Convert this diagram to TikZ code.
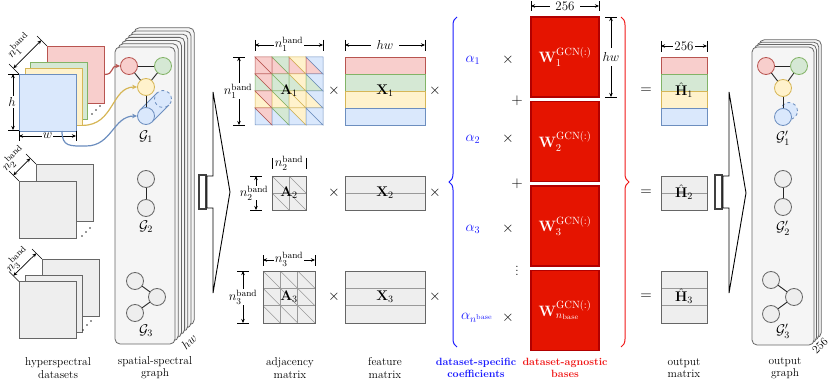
\RequirePackage{fix-cm}
\documentclass[tikz,border=0pt]{standalone}
\usepackage{amsmath}
\usetikzlibrary{arrows.meta,decorations.pathreplacing,calc}
\definecolor{Fr}{HTML}{F8CECC}\definecolor{Lr}{HTML}{B85450}
\definecolor{Fg}{HTML}{D5E8D4}\definecolor{Lg}{HTML}{82B366}
\definecolor{Fy}{HTML}{FFF2CC}\definecolor{Ly}{HTML}{D6B656}
\definecolor{Fb}{HTML}{DAE8FC}\definecolor{Lb}{HTML}{6C8EBF}
\definecolor{Fk}{HTML}{EEEEEE}\definecolor{Lk}{HTML}{666666}
\definecolor{Ik}{HTML}{999999}
\definecolor{Fp}{HTML}{F5F5F5}
\definecolor{Wr}{HTML}{E51400}\definecolor{WrL}{HTML}{B20000}
\definecolor{cblue}{HTML}{1A1AFF}\definecolor{cred}{HTML}{F01818}
\begin{document}
\begin{tikzpicture}[x=1pt,y=-1pt,
  panel/.style={rounded corners=5pt, fill=Fp, draw=Lk, line width=0.8pt},
  gn/.style={circle, draw, minimum size=17pt, inner sep=0pt, line width=0.8pt},
  gk/.style={gn, fill=Fk, draw=Lk},
  gedge/.style={draw=black!85, line width=0.9pt},
  mlab/.style={font=\fontsize{14}{16}\selectfont, inner sep=1pt},
  op/.style={font=\fontsize{15}{17}\selectfont, inner sep=0pt},
  dimtick/.style={line width=0.7pt},
  dimarr/.style={line width=0.7pt, {Stealth[length=4pt,width=3.5pt]}-{Stealth[length=4pt,width=3.5pt]}},
  dimlbl/.style={fill=white, inner sep=1pt, font=\fontsize{13}{15}\selectfont},
  rotlbl/.style={font=\fontsize{12.5}{14}\selectfont, rotate=45, inner sep=0pt},
  botlbl/.style={font=\fontsize{11.4}{12.3}\selectfont, align=center},
  sqk/.style={draw=Lk, fill=Fk, line width=0.8pt, minimum size=57pt, inner sep=0pt},
  carrow/.style={line width=1.2pt, -{Stealth[length=5pt,width=4.5pt]}},
  wbox/.style={fill=Wr, draw=WrL, line width=1.2pt, minimum width=68pt, minimum height=80pt, text=white, font=\fontsize{15}{17}\selectfont, inner sep=0pt},
  coef/.style={text=cblue, font=\fontsize{14.5}{16}\selectfont, inner sep=0pt}
]
\useasboundingbox (0,0) rectangle (830,382);

%%%%%%%%%%%% left stack (spatial-spectral graph)
\foreach \k in {6,5,...,1}
  \draw[panel, shift={(3.2*\k,-3.2*\k)}] (115,47) rectangle (175,344);
\node[panel, minimum width=60pt, minimum height=297pt, inner sep=0pt] (ssg) at (145,195.5) {};
\node[font=\fontsize{12.5}{14}\selectfont, rotate=45] (hwl) at (189,342) {$hw$};

% G1
\node[gn, fill=Fr, draw=Lr] (g1r) at (129,66) {};
\node[gn, fill=Fg, draw=Lg] (g1g) at (163,66) {};
\node[gn, fill=Fy, draw=Ly] (g1y) at (146,87) {};
\fill[Fb] (140,110) -- (157,93) -- (169,105) -- (152,122) -- cycle;
\node[gn, fill=Fb, draw=Lb, dashed] (g1bb) at (163,99) {};
\draw[Lb, line width=0.8pt] (140,110) -- (157,93) (152,122) -- (169,105);
\node[gn, fill=Fb, draw=Lb] (g1b) at (146,116) {};
\draw[gedge] (g1r) -- (g1g);
\draw[gedge] (g1r) -- (g1y);
\draw[gedge] (g1g) -- (g1y);
\draw[gedge] (g1y) -- (g1b);
\node[mlab] (lg1) at (146,137) {$\mathcal{G}_1$};
% G2
\node[gk] (g2a) at (146,179) {};
\node[gk] (g2b) at (146,208) {};
\draw[gedge] (g2a) -- (g2b);
\node[mlab] (lg2) at (146,227) {$\mathcal{G}_2$};
% G3
\node[gk] (g3a) at (135,281) {};
\node[gk] (g3b) at (157,297) {};
\node[gk] (g3c) at (135,313) {};
\draw[gedge] (g3a) -- (g3b);
\draw[gedge] (g3b) -- (g3c);
\node[mlab] (lg3) at (146,331) {$\mathcal{G}_3$};

%%%%%%%%%%%% datasets
\node[sqk, fill=Fr, draw=Lr] (d1r) at (75.5,74.5) {};
\node[sqk, fill=Fg, draw=Lg] (d1g) at (58.5,90.5) {};
\node[sqk, fill=Fy, draw=Ly] (d1y) at (53.5,96.5) {};
\node[sqk, fill=Fb, draw=Lb] (d1b) at (47.5,102.5) {};
\foreach \p in {(92,114),(96,110),(100,106)} \fill[black!80] \p circle[radius=0.9pt];

\node[sqk] (d2b) at (64.5,192.5) {};
\node[sqk] (d2f) at (47.5,209.5) {};
\foreach \p in {(82,236),(86,232),(90,228)} \fill[black!80] \p circle[radius=0.9pt];

\node[sqk] (d3b) at (70.5,287.5) {};
\node[sqk] (d3m) at (53.5,304) {};
\node[sqk] (d3f) at (47.5,310) {};
\foreach \p in {(83,330),(87,325),(91,321)} \fill[black!80] \p circle[radius=0.9pt];

% dimension of dataset 1
\draw[dimtick] (19,74) -- (9.1,64.1);
\draw[dimtick] (47,46) -- (37.1,36.1);
\draw[dimarr] (13.3,68.3) -- (41.3,40.3);
\node[rotlbl] at (19,46) {$n_1^{\mathrm{band}}$};
\draw[dimtick] (8,74) -- (19,74);
\draw[dimtick] (8,130) -- (19,130);
\draw[dimarr] (13,74) -- (13,130);
\node[dimlbl] at (12,102) {$h$};
\draw[dimtick] (19,131) -- (19,141);
\draw[dimtick] (76,131) -- (76,141);
\draw[dimarr] (19,136) -- (76,136);
\node[dimlbl] at (47.5,136) {$w$};
% dataset 2
\draw[dimtick] (19,181) -- (9.1,171.1);
\draw[dimtick] (36,164) -- (26.1,154.1);
\draw[dimarr] (13.3,175.3) -- (30.3,158.3);
\node[rotlbl] at (13.5,158.5) {$n_2^{\mathrm{band}}$};
% dataset 3
\draw[dimtick] (19,281.5) -- (9.1,271.6);
\draw[dimtick] (42,259) -- (32.1,249.1);
\draw[dimarr] (13.3,275.8) -- (36.3,253.3);
\node[rotlbl] at (17.5,259.5) {$n_3^{\mathrm{band}}$};

% curved arrows into G1
\draw[carrow, Lr] (d1r.east) .. controls +(10,0) and +(-10,0) .. (g1r.west);
\draw[carrow, Ly] (d1y.south east) .. controls +(32,0) and +(-26,0) .. (g1y.west);
\coordinate (bstart) at (62,131);
\coordinate (bmid) at (86,146);
\draw[carrow, Lb] (bstart) .. controls +(0,16) and +(-16,0) .. (bmid) .. controls +(26,0) and +(-24,0) .. (g1b.west);

%%%%%%%%%%%% big arrow 1
\draw[line width=1.2pt, draw=black!75] (199,175) rectangle (206,209);
\draw[line width=0.9pt] (207,176) -- (213,176) -- (213,92) -- (230,192) -- (213,293) -- (213,208) -- (207,208) -- cycle;

%%%%%%%%%%%% adjacency matrices
% A1
\foreach \i/\ci in {0/r,1/g,2/y,3/b}{
  \foreach \j/\cj in {0/r,1/g,2/y,3/b}{
    \filldraw[fill=F\ci, draw=L\ci, line width=0.5pt] ({255+17*\j},{57+17*\i}) -- ++(0,17) -- ++(17,0) -- cycle;
    \filldraw[fill=F\cj, draw=L\cj, line width=0.5pt] ({255+17*\j},{57+17*\i}) -- ++(17,0) -- ++(0,17) -- cycle;
  }}
\node[mlab] (A1) at (289,91) {$\mathbf{A}_1$};
\draw[dimtick] (255,40) -- (255,51);
\draw[dimtick] (323,40) -- (323,51);
\draw[dimarr] (255,45) -- (323,45);
\node[dimlbl] at (289,44) {$n_1^{\mathrm{band}}$};
\draw[dimtick] (233,57) -- (245,57);
\draw[dimtick] (233,125) -- (245,125);
\draw[dimarr] (239,57) -- (239,125);
\node[dimlbl] at (238,91) {$n_1^{\mathrm{band}}$};
% A2
\foreach \i in {0,1}{
  \foreach \j in {0,1}{
    \filldraw[fill=Fk, draw=Ik, line width=0.5pt] ({272+17*\j},{176+17*\i}) rectangle ++(17,17);
    \draw[Ik, line width=0.5pt] ({272+17*\j},{176+17*\i}) -- ++(17,17);
  }}
\draw[Lk, line width=0.9pt] (272,176) rectangle (306,210);
\node[mlab] (A2) at (289,193) {$\mathbf{A}_2$};
\draw[dimtick] (272,158) -- (272,169);
\draw[dimtick] (306,158) -- (306,169);
\node[dimlbl, inner sep=0pt] at (289,163) {$n_2^{\mathrm{band}}$};
\draw[dimtick] (250,176) -- (262,176);
\draw[dimtick] (250,210) -- (262,210);
\draw[dimarr] (256,176) -- (256,210);
\node[dimlbl, inner sep=0pt] at (254,193) {$n_2^{\mathrm{band}}$};
% A3
\foreach \i in {0,1,2}{
  \foreach \j in {0,1,2}{
    \filldraw[fill=Fk, draw=Ik, line width=0.5pt] ({263+17.33*\j},{271+17.33*\i}) rectangle ++(17.33,17.33);
    \draw[Ik, line width=0.5pt] ({263+17.33*\j},{271+17.33*\i}) -- ++(17.33,17.33);
  }}
\draw[Lk, line width=0.9pt] (263,271) rectangle (315,323);
\node[mlab] (A3) at (289,297) {$\mathbf{A}_3$};
\draw[dimtick] (263,255) -- (263,266);
\draw[dimtick] (315,255) -- (315,266);
\draw[dimarr] (263,260) -- (315,260);
\node[dimlbl] at (289,259) {$n_3^{\mathrm{band}}$};
\draw[dimtick] (237,271) -- (249,271);
\draw[dimtick] (237,323) -- (249,323);
\draw[dimarr] (243,271) -- (243,323);
\node[dimlbl] at (243,297) {$n_3^{\mathrm{band}}$};

%%%%%%%%%%%% feature matrices
\foreach \i/\c in {0/r,1/g,2/y,3/b}
  \filldraw[fill=F\c, draw=L\c, line width=0.8pt] (345,{57+17*\i}) rectangle ++(80,17);
\node[mlab] (X1) at (385,91) {$\mathbf{X}_1$};
\draw[dimtick] (345,40) -- (345,51);
\draw[dimtick] (425,40) -- (425,51);
\draw[dimarr] (345,45) -- (425,45);
\node[dimlbl, inner xsep=6pt] at (385,45) {$hw$};
\foreach \i in {0,1}
  \filldraw[fill=Fk, draw=Ik, line width=0.6pt] (345,{176+17*\i}) rectangle ++(80,17);
\draw[Lk, line width=0.9pt] (345,176) rectangle (425,210);
\node[mlab] (X2) at (385,193) {$\mathbf{X}_2$};
\foreach \i in {0,1,2}
  \filldraw[fill=Fk, draw=Ik, line width=0.6pt] (345,{271+17.33*\i}) rectangle ++(80,17.33);
\draw[Lk, line width=0.9pt] (345,271) rectangle (425,323);
\node[mlab] (X3) at (385,297) {$\mathbf{X}_3$};

\foreach \y in {91,193,297}{
  \node[op] at (334,\y) {$\times$};
  \node[op] at (435,\y) {$\times$};
}

%%%%%%%%%%%% coefficients and bases
\draw[cblue, line width=1pt, decorate, decoration={brace, amplitude=8pt}] (457,347) -- (457,17);
\draw[cred, line width=1pt, decorate, decoration={brace, amplitude=8pt}] (621,17) -- (621,347);

\node[coef] (al1) at (473,60) {$\alpha_1$};
\node[coef] (al2) at (473,139) {$\alpha_2$};
\node[coef] (al3) at (473,229) {$\alpha_3$};
\node[coef] (al4) at (477,318) {$\alpha_{n^{\mathrm{base}}}$};
\foreach \y in {60,139,229,318} \node[op] at (508,\y) {$\times$};
\node[op] at (517,101) {$+$};
\node[op] at (517,184) {$+$};
\node[op] at (517,268) {$\vdots$};

\node[wbox] (W1) at (565,57) {$\mathbf{W}_1^{\mathrm{GCN}(:)}$};
\node[wbox] (W2) at (565,141.5) {$\mathbf{W}_2^{\mathrm{GCN}(:)}$};
\node[wbox] (W3) at (565,226) {$\mathbf{W}_3^{\mathrm{GCN}(:)}$};
\node[wbox] (W4) at (565,310.5) {$\mathbf{W}_{n_{\mathrm{base}}}^{\mathrm{GCN}(:)}$};
\draw[dimtick] (531,1) -- (531,11);
\draw[dimtick] (599,1) -- (599,11);
\draw[dimarr] (531,6) -- (599,6);
\node[dimlbl, inner xsep=5pt] at (565,6) {256};
\draw[dimtick] (605,17) -- (617,17);
\draw[dimtick] (605,97) -- (617,97);
\draw[dimarr] (611,17) -- (611,97);
\node[dimlbl, inner ysep=4pt] at (611,57) {$hw$};

%%%%%%%%%%%% output matrices
\foreach \i/\c in {0/r,1/g,2/y,3/b}
  \filldraw[fill=F\c, draw=L\c, line width=0.8pt] (661,{57+17*\i}) rectangle ++(46,17);
\node[mlab] (H1) at (684,90) {$\hat{\mathbf{H}}_1$};
\draw[dimtick] (661,41) -- (661,52);
\draw[dimtick] (707,41) -- (707,52);
\draw[dimarr] (661,46) -- (707,46);
\node[dimlbl] at (684,46) {256};
\foreach \i in {0,1}
  \filldraw[fill=Fk, draw=Ik, line width=0.6pt] (661,{176+17*\i}) rectangle ++(46,17);
\draw[Lk, line width=0.9pt] (661,176) rectangle (707,210);
\node[mlab] (H2) at (684,192) {$\hat{\mathbf{H}}_2$};
\foreach \i in {0,1,2}
  \filldraw[fill=Fk, draw=Ik, line width=0.6pt] (661,{271+17.33*\i}) rectangle ++(46,17.33);
\draw[Lk, line width=0.9pt] (661,271) rectangle (707,323);
\node[mlab] (H3) at (684,296) {$\hat{\mathbf{H}}_3$};
\foreach \y in {91,193,297} \node[op] at (646,\y) {$=$};

%%%%%%%%%%%% big arrow 2
\draw[line width=1.2pt, draw=black!75] (715,175) rectangle (722,209);
\draw[line width=0.9pt] (723,176) -- (729,176) -- (729,92) -- (746,193) -- (729,293) -- (729,208) -- (723,208) -- cycle;

%%%%%%%%%%%% output graph stack
\foreach \k in {3,2,1}
  \draw[panel, shift={(2.4*\k,-2.4*\k)}] (752,47) rectangle (814,345);
\node[panel, minimum width=62pt, minimum height=298pt, inner sep=0pt] (og) at (783,196) {};
\node[font=\fontsize{11.5}{13}\selectfont, rotate=45] (l256) at (820,346) {256};

\node[gn, fill=Fr, draw=Lr] (h1r) at (766,66) {};
\node[gn, fill=Fg, draw=Lg] (h1g) at (799,66) {};
\node[gn, fill=Fy, draw=Ly] (h1y) at (783,88) {};
\node[gn, fill=Fb, draw=Lb, dashed] (h1bb) at (789,111) {};
\node[gn, fill=Fb, draw=Lb] (h1b) at (783,117) {};
\draw[gedge] (h1r) -- (h1g);
\draw[gedge] (h1r) -- (h1y);
\draw[gedge] (h1g) -- (h1y);
\draw[gedge] (h1y) -- (h1b);
\node[mlab] at (783,138) {$\mathcal{G}'_1$};
\node[gk] (h2a) at (783,179) {};
\node[gk] (h2b) at (783,207) {};
\draw[gedge] (h2a) -- (h2b);
\node[mlab] at (783,228) {$\mathcal{G}'_2$};
\node[gk] (h3a) at (771,280) {};
\node[gk] (h3b) at (794,297) {};
\node[gk] (h3c) at (771,314) {};
\draw[gedge] (h3a) -- (h3b);
\draw[gedge] (h3b) -- (h3c);
\node[mlab] at (783,331) {$\mathcal{G}'_3$};

%%%%%%%%%%%% bottom labels
\node[botlbl] at (58,368) {hyperspectral\\datasets};
\node[botlbl] at (155,368) {spatial-spectral\\graph};
\node[botlbl] at (290,368) {adjacency\\matrix};
\node[botlbl] at (385,368) {feature\\matrix};
\node[botlbl, text=cblue, font=\fontsize{10.5}{12.3}\selectfont\bfseries] at (476,368) {dataset-specific\\coefficients};
\node[botlbl, text=cred, font=\fontsize{10.5}{12.3}\selectfont\bfseries] at (565,368) {dataset-agnostic\\bases};
\node[botlbl] at (684,368) {output\\matrix};
\node[botlbl] at (785,368) {output\\graph};
\end{tikzpicture}
\end{document}
